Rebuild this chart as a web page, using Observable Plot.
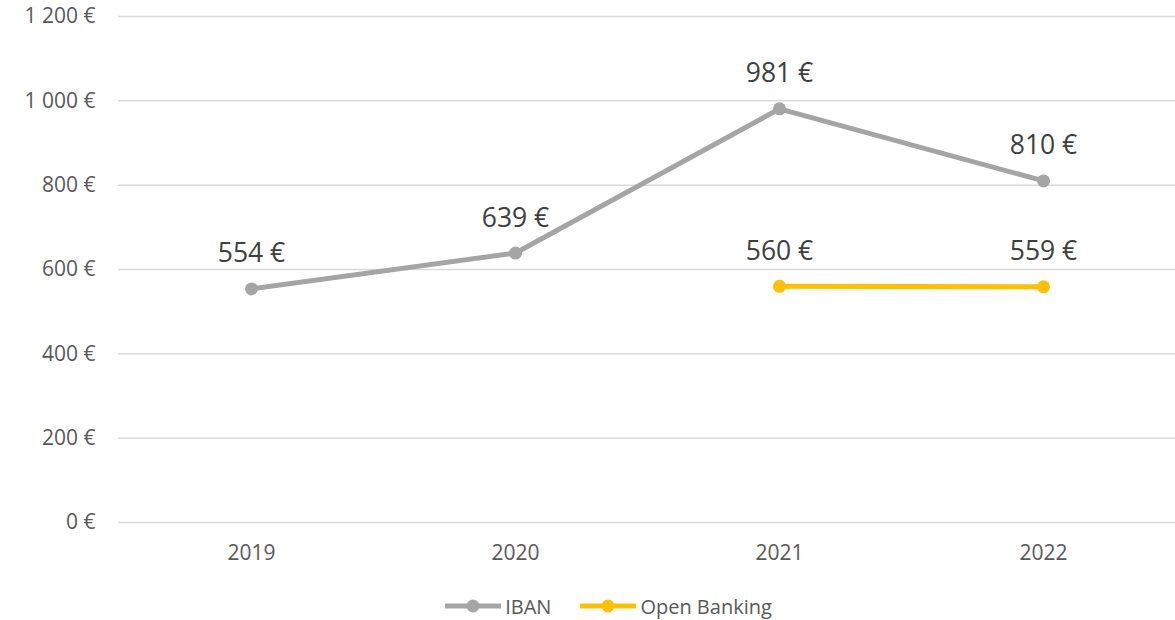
<!DOCTYPE html>
<html><head><meta charset="utf-8">
<script src="https://cdn.jsdelivr.net/npm/d3@7"></script>
<script src="https://cdn.jsdelivr.net/npm/@observablehq/plot@0.6"></script>
<style>
body{margin:0;background:#fff;font-family:"Open Sans",sans-serif;}
#legend{display:flex;justify-content:center;align-items:center;height:72px;font-size:20px;color:#595959;padding-left:41px;}
#legend .item{display:flex;align-items:center;margin:0 14px;}
#legend svg{margin-right:3px;}
</style></head>
<body><div id="chart"></div><div id="legend"></div>
<script>
const years = ["2019","2020","2021","2022"];
const ibanValues = [554, 639, 981, 810];
const obYears = ["2021","2022"];
const obValues = [560, 559];
const yTicks = [0,200,400,600,800,1000,1200];
const seriesNames = ["IBAN","Open Banking"];
const seriesColors = ["#A5A5A5","#FFC000"];

const data = [
  ...years.map((y,i)=>({year:y,value:ibanValues[i],series:"IBAN"})),
  ...obYears.map((y,i)=>({year:y,value:obValues[i],series:"Open Banking"}))
];
const fmt = d => d3.format(",")(d).replace(/,/g,"\u00a0") + "\u00a0€";

const chart = Plot.plot({
  width:1175, height:570,
  marginLeft:118, marginRight:0, marginTop:16, marginBottom:48,
  style:{fontFamily:"Open Sans, sans-serif", background:"#fff"},
  x:{type:"point", domain:years, padding:0.5, label:null},
  y:{domain:[0,1200], label:null},
  color:{domain:seriesNames, range:seriesColors},
  marks:[
    Plot.ruleY(yTicks,{stroke:"#d9d9d9",strokeWidth:1.5}),
    Plot.axisY({ticks:yTicks, tickSize:0, tickPadding:23, tickFormat:fmt, fontSize:21, fill:"#595959", label:null}),
    Plot.axisX({tickSize:0, tickPadding:23, fontSize:21, fill:"#595959", label:null}),
    Plot.line(data,{x:"year",y:"value",z:"series",stroke:"series",strokeWidth:5}),
    Plot.dot(data,{x:"year",y:"value",fill:"series",r:6.5}),
    Plot.text(data,{x:"year",y:"value",text:d=>fmt(d.value),dy:-35,fontSize:26.5,fill:"#404040"})
  ]
});
document.getElementById("chart").appendChild(chart);

const leg = document.getElementById("legend");
seriesNames.forEach((n,i)=>{
  const it = document.createElement("div"); it.className="item";
  it.innerHTML = `<svg width="58" height="16"><line x1="1" y1="8" x2="57" y2="8" stroke="${seriesColors[i]}" stroke-width="5"/><circle cx="29" cy="8" r="6.5" fill="${seriesColors[i]}"/></svg><span>${n}</span>`;
  leg.appendChild(it);
});
</script></body></html>
